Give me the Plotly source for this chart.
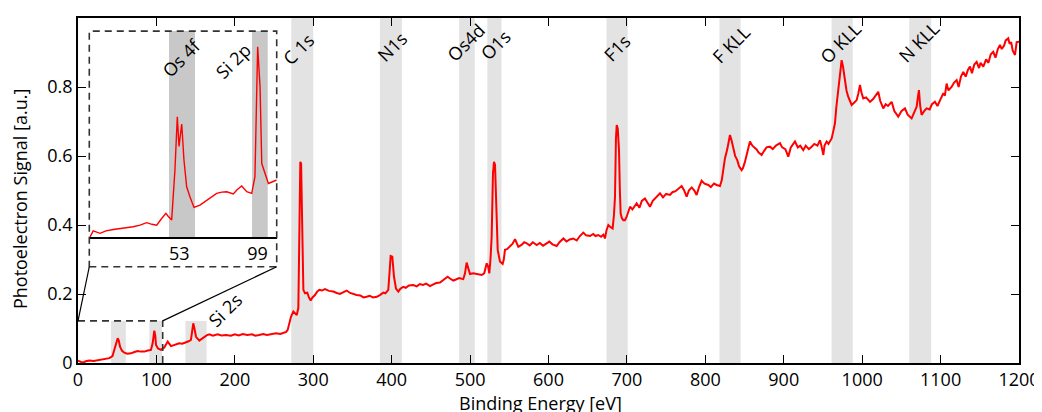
import plotly.graph_objects as go

# ---------------- data ----------------
energy_ev = [0, 3, 6, 10, 14.4, 20, 27, 33, 40, 44, 47.6, 50.6, 52, 53.6, 56, 59, 63, 67.6, 72, 76, 80, 84.6, 89, 93,
             95.2, 97.3, 98.5, 99.5, 102, 105.8, 110, 114.4, 118.6, 124, 129, 133, 137.7, 141, 144, 146, 147, 148.5,
             150.5, 154.7, 158, 161, 164, 167.5, 172, 178, 183, 188.7, 195, 200, 205, 210, 216, 222, 226, 231, 236,
             241, 246, 252.5, 258, 263, 265.5, 267.4, 269, 271.6, 274.6, 277, 279, 281, 282.5, 283.5, 284.5, 285.5,
             286.5, 287.4, 289.5, 292.4, 294.5, 296.7, 299, 302.2, 305, 307.7, 311, 315, 320, 325.6, 330, 334, 338,
             342.6, 347, 351, 355.3, 360, 364, 368, 372, 376, 381, 385, 389.3, 392, 395.7, 397.5, 398.7, 400.8, 402,
             403, 405.5, 408.5, 411, 414.8, 418, 422, 427.6, 432, 436, 440, 444, 448.9, 453, 457, 461.6, 466, 469,
             471.4, 474.4, 478.6, 482, 486, 491.3, 493.5, 495.6, 497.5, 499.9, 504, 508.4, 511, 514.8, 518, 521.2,
             523, 524.5, 526, 527.5, 529.2, 530.5, 531.8, 533, 534, 535.2, 538.1, 541.5, 543, 544.5, 547, 550.9, 554,
             557.3, 559, 561.5, 566, 569, 572.2, 576, 580, 585, 589, 593, 597.7, 601, 605, 610.5, 614, 619, 623, 627,
             631.6, 636, 640, 644.4, 648, 653, 657, 660, 663.5, 667, 670, 672, 674, 676.3, 678.5, 681.8, 683.5, 684.8,
             686, 687, 688.3, 689.9, 691, 692, 693.5, 695.4, 697.5, 699.7, 702, 704, 707, 710, 712.4, 716, 719, 723,
             726, 729.4, 733, 737, 742.2, 746, 750, 754.9, 758, 762, 766, 769.8, 773, 776.2, 779, 782.6, 786, 788.9,
             792, 795.3, 799, 803.8, 807, 811, 814.4, 818.7, 821, 823, 825, 828, 831.4, 833.5, 835.6, 838, 840.7, 843,
             846.3, 848, 850.5, 853, 856.9, 860, 865.4, 868, 871.8, 875, 878, 882.4, 886, 890, 895.2, 898, 902, 905.8,
             909, 914.3, 918, 921, 924.9, 928, 932, 935.6, 939, 943, 946.2, 948, 950.5, 952, 954.7, 957, 961.1, 963,
             965.3, 967, 969.5, 971.5, 973.8, 975.5, 978, 980, 982.2, 984, 986.6, 990, 993, 995, 997.2, 999, 1001.4,
             1005, 1010, 1014, 1017, 1020.5, 1023, 1026.9, 1030, 1033, 1037.6, 1041, 1046, 1050, 1054.6, 1058, 1063.1,
             1066, 1069.5, 1071, 1072.4, 1074, 1075.8, 1079, 1082.2, 1086, 1089, 1092.8, 1096, 1100, 1103.5, 1105.5,
             1107.7, 1110, 1114, 1117, 1120.5, 1123, 1126, 1129, 1132, 1135, 1137.5, 1140, 1143, 1146, 1149, 1151,
             1154.5, 1158, 1161, 1164, 1167.2, 1170, 1173, 1175.7, 1178, 1181, 1183, 1186.3, 1188, 1190, 1192, 1194.9,
             1197, 1200]
signal = [0.007, 0.004, 0.001, 0.005, 0.007, 0.006, 0.009, 0.012, 0.014, 0.02, 0.047, 0.072, 0.065, 0.047, 0.036,
          0.03, 0.027, 0.028, 0.032, 0.035, 0.033, 0.033, 0.036, 0.038, 0.057, 0.094, 0.08, 0.052, 0.042, 0.038, 0.045,
          0.062, 0.049, 0.052, 0.057, 0.056, 0.059, 0.063, 0.067, 0.1, 0.115, 0.1, 0.076, 0.065, 0.07, 0.076, 0.08,
          0.083, 0.079, 0.083, 0.08, 0.081, 0.079, 0.083, 0.08, 0.084, 0.081, 0.083, 0.079, 0.081, 0.084, 0.081,
          0.083, 0.086, 0.084, 0.088, 0.09, 0.096, 0.11, 0.134, 0.149, 0.145, 0.139, 0.16, 0.45, 0.583, 0.578, 0.40,
          0.25, 0.212, 0.202, 0.204, 0.19, 0.181, 0.19, 0.197, 0.207, 0.212, 0.21, 0.214, 0.209, 0.207, 0.203, 0.2,
          0.205, 0.21, 0.203, 0.2, 0.197, 0.196, 0.19, 0.192, 0.195, 0.19, 0.192, 0.197, 0.204, 0.202, 0.212, 0.27,
          0.31, 0.308, 0.28, 0.25, 0.216, 0.207, 0.215, 0.221, 0.218, 0.225, 0.226, 0.222, 0.229, 0.226, 0.23, 0.223,
          0.228, 0.232, 0.233, 0.24, 0.244, 0.25, 0.245, 0.239, 0.242, 0.246, 0.243, 0.26, 0.291, 0.275, 0.258, 0.26,
          0.258, 0.256, 0.255, 0.26, 0.289, 0.28, 0.26, 0.3, 0.366, 0.55, 0.583, 0.575, 0.492, 0.4, 0.328, 0.294,
          0.287, 0.3, 0.328, 0.33, 0.339, 0.345, 0.359, 0.35, 0.337, 0.343, 0.35, 0.347, 0.341, 0.35, 0.342, 0.348,
          0.34, 0.347, 0.352, 0.344, 0.339, 0.35, 0.361, 0.352, 0.358, 0.361, 0.355, 0.368, 0.378, 0.37, 0.368, 0.374,
          0.368, 0.371, 0.366, 0.372, 0.361, 0.385, 0.4, 0.395, 0.39, 0.43, 0.482, 0.65, 0.69, 0.68, 0.617, 0.5,
          0.434, 0.42, 0.414, 0.414, 0.424, 0.44, 0.453, 0.445, 0.455, 0.463, 0.45, 0.47, 0.477, 0.465, 0.453, 0.47,
          0.48, 0.492, 0.48, 0.49, 0.487, 0.495, 0.498, 0.505, 0.513, 0.5, 0.482, 0.5, 0.509, 0.5, 0.487, 0.51, 0.528,
          0.52, 0.516, 0.51, 0.52, 0.516, 0.513, 0.53, 0.56, 0.593, 0.62, 0.661, 0.645, 0.627, 0.6, 0.588, 0.57,
          0.559, 0.565, 0.583, 0.61, 0.642, 0.63, 0.619, 0.61, 0.603, 0.615, 0.625, 0.627, 0.62, 0.63, 0.637, 0.625,
          0.62, 0.598, 0.625, 0.642, 0.625, 0.63, 0.617, 0.63, 0.62, 0.627, 0.635, 0.63, 0.646, 0.63, 0.603, 0.63,
          0.642, 0.635, 0.651, 0.67, 0.695, 0.74, 0.791, 0.84, 0.878, 0.86, 0.82, 0.79, 0.772, 0.76, 0.748, 0.755,
          0.762, 0.78, 0.806, 0.785, 0.767, 0.77, 0.757, 0.765, 0.775, 0.786, 0.76, 0.738, 0.75, 0.745, 0.757, 0.73,
          0.714, 0.73, 0.738, 0.72, 0.709, 0.725, 0.743, 0.77, 0.791, 0.745, 0.719, 0.73, 0.738, 0.735, 0.75, 0.757,
          0.745, 0.765, 0.782, 0.775, 0.81, 0.79, 0.8, 0.812, 0.82, 0.8, 0.83, 0.844, 0.83, 0.85, 0.859, 0.84, 0.865,
          0.873, 0.855, 0.87, 0.859, 0.88, 0.87, 0.895, 0.902, 0.885, 0.91, 0.922, 0.91, 0.92, 0.935, 0.941, 0.925,
          0.93, 0.905, 0.893, 0.93, 0.931]

# inset (high-resolution low-energy region), arbitrary units
inset_ev = [0.6, 2.5, 6.5, 10, 14.3, 20.2, 26, 30, 33.9, 37, 39.8, 42.7, 45.2, 46.6, 48.6, 50.5, 51.9, 52.9, 54.5,
            55.8, 57.4, 59.3, 61.7, 65.2, 69.2, 72, 75, 78, 80.9, 84.8, 87, 89.7, 92.7, 95.6, 97.5, 99.1, 100.5,
            101.5, 103.4, 105.4, 110.3]
inset_sig = [0.0, 0.03, 0.018, 0.03, 0.037, 0.042, 0.05, 0.058, 0.07, 0.062, 0.058, 0.09, 0.115, 0.1, 0.083, 0.325,
             0.584, 0.44, 0.549, 0.374, 0.244, 0.196, 0.144, 0.155, 0.18, 0.195, 0.212, 0.218, 0.22, 0.209, 0.23,
             0.248, 0.22, 0.212, 0.293, 0.924, 0.73, 0.357, 0.308, 0.26, 0.277]

# marked regions (main plot, full height)
peak_labels = ["C 1s", "N1s", "Os4d", "O1s", "F1s", "F KLL", "O KLL", "N KLL"]
peak_lo = [272, 385, 486, 522, 674, 818, 961, 1060]
peak_hi = [300, 413, 506, 540, 701, 845, 988, 1088]
peak_label_x = [281, 400, 495, 532, 687, 833, 973, 1072]
peak_label_y = [0.91, 0.916, 0.93, 0.922, 0.913, 0.925, 0.93, 0.93]

# marked low-energy regions (main plot, short bands)
low_lo = [42, 91, 137]
low_hi = [61, 107, 164]
low_top = 0.122
si2s_label = ("Si 2s", 187.5, 0.154)

# inset regions
inset_labels = ["Os 4f", "Si 2p"]
inset_lo = [47, 95.8]
inset_hi = [62.3, 105]
inset_label_x = [131.4, 197.6]
inset_label_y = [0.884, 0.875]
inset_ticks = [53, 99]

# zoom box: small region (main data coords) and enlarged box (main data coords)
zoom_small = (0, 108, 0, low_top)
zoom_big = (14.4, 253.4, 0.279, 0.962)

FONT = "Open Sans"
fig = go.Figure()

fig.add_trace(go.Scatter(x=energy_ev, y=signal, mode="lines",
                         line=dict(color="#ff0000", width=2), xaxis="x", yaxis="y",
                         showlegend=False, hoverinfo="skip"))
fig.add_trace(go.Scatter(x=inset_ev, y=inset_sig, mode="lines",
                         line=dict(color="#ff0000", width=1.4), xaxis="x2", yaxis="y2",
                         showlegend=False, hoverinfo="skip"))

shapes = []
for lo, hi in zip(peak_lo, peak_hi):
    shapes.append(dict(type="rect", xref="x", yref="y", x0=lo, x1=hi, y0=0, y1=1,
                       fillcolor="#e3e3e3", line=dict(width=0), layer="below"))
for lo, hi in zip(low_lo, low_hi):
    shapes.append(dict(type="rect", xref="x", yref="y", x0=lo, x1=hi, y0=0, y1=low_top,
                       fillcolor="#e3e3e3", line=dict(width=0), layer="below"))
for lo, hi in zip(inset_lo, inset_hi):
    shapes.append(dict(type="rect", xref="x2", yref="y2 domain", x0=lo, x1=hi, y0=0, y1=1,
                       fillcolor="#c8c8c8", line=dict(width=0), layer="below"))

dash_line = dict(color="#333333", width=1.6, dash="7px,5px")
sx0, sx1, sy0, sy1 = zoom_small
bx0, bx1, by0, by1 = zoom_big
# small dashed box (top and right edges)
shapes.append(dict(type="line", xref="x", yref="y", x0=sx0, x1=sx1, y0=sy1, y1=sy1, line=dash_line))
shapes.append(dict(type="line", xref="x", yref="y", x0=sx1, x1=sx1, y0=sy0, y1=sy1, line=dash_line))
# big dashed box
shapes.append(dict(type="rect", xref="x", yref="y", x0=bx0, x1=bx1, y0=by0, y1=by1, line=dash_line))
# connectors
shapes.append(dict(type="line", xref="x", yref="y", x0=sx0, y0=sy1, x1=bx0, y1=by0,
                   line=dict(color="black", width=1.2)))
shapes.append(dict(type="line", xref="x", yref="y", x0=sx1, y0=sy1, x1=bx1, y1=by0,
                   line=dict(color="black", width=1.2)))

label_font = dict(family=FONT, size=18, color="black")
annotations = []
for t, x, y in zip(peak_labels, peak_label_x, peak_label_y):
    annotations.append(dict(text=t, x=x, y=y, xref="x", yref="y", showarrow=False, textangle=-45,
                            font=label_font))
annotations.append(dict(text=si2s_label[0], x=si2s_label[1], y=si2s_label[2], xref="x", yref="y",
                        showarrow=False, textangle=-45, font=label_font))
for t, x, y in zip(inset_labels, inset_label_x, inset_label_y):
    annotations.append(dict(text=t, x=x, y=y, xref="x", yref="y", showarrow=False, textangle=-45,
                            font=label_font))
# axis titles
annotations.append(dict(text="Binding Energy [eV]", x=0.492, y=-0.116, xref="paper", yref="paper",
                        showarrow=False, xanchor="center", yanchor="middle",
                        font=dict(family=FONT, size=18, color="black")))
annotations.append(dict(text="Photoelectron Signal [a.u.]", x=-0.061, y=0.474, xref="paper", yref="paper",
                        showarrow=False, textangle=-90, xanchor="center", yanchor="middle",
                        font=dict(family=FONT, size=18, color="black")))

axis_font = dict(family=FONT, size=18, color="black")
# page body adds an 8px offset; margins compensate so the plot area lands at the reference position
fig.update_layout(
    width=1042, height=412,
    margin=dict(l=70, r=31, t=10, b=57, autoexpand=False),
    paper_bgcolor="white", plot_bgcolor="rgba(0,0,0,0)",
    xaxis=dict(domain=[0, 1], range=[0, 1200], tickmode="array", tickvals=list(range(0, 1201, 100)),
               ticks="inside", ticklen=8, tickwidth=1.2, tickcolor="black", mirror="ticks",
               showline=True, linecolor="black", linewidth=1.5, showgrid=False, zeroline=False,
               tickfont=axis_font, anchor="y"),
    yaxis=dict(domain=[0, 1], range=[0, 1], tickmode="array", tickvals=[0, 0.2, 0.4, 0.6, 0.8, 1],
               ticktext=["0", "0.2", "0.4", "0.6", "0.8", "1"],
               ticks="inside", ticklen=8, tickwidth=1.2, tickcolor="black", mirror="ticks",
               showline=True, linecolor="black", linewidth=1.5, showgrid=False, zeroline=False,
               tickfont=axis_font, anchor="x"),
    xaxis2=dict(domain=[0.012, 0.2112], range=[0.2, 110.3], tickmode="array", tickvals=inset_ticks,
                ticks="", showline=True, linecolor="black", linewidth=1.5, showgrid=False,
                zeroline=False, tickfont=axis_font, anchor="y2"),
    yaxis2=dict(domain=[0.365, 0.962], range=[0, 1], visible=False, anchor="x2"),
    shapes=shapes, annotations=annotations,
)

fig.write_html("out.html")
